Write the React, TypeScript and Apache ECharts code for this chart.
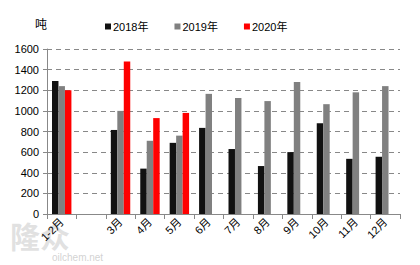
import React, { useEffect, useRef } from "react";
import * as echarts from "echarts";

const categories = ["1-2月", "", "3月", "4月", "5月", "6月", "7月", "8月", "9月", "10月", "11月", "12月"];
const y2018 = [1290, null, 815, 440, 690, 835, 630, 465, 600, 880, 535, 555];
const y2019 = [1240, null, 1000, 710, 760, 1165, 1125, 1095, 1280, 1065, 1180, 1240];
const y2020 = [1200, null, 1480, 930, 980, null, null, null, null, null, null, null];
const seriesNames = ["2018年", "2019年", "2020年"];
const colors = ["#111111", "#808080", "#ff0000"];

const FONT = "'Liberation Sans', 'Noto Sans CJK SC', sans-serif";

export default function App() {
  const ref = useRef<HTMLDivElement>(null);
  useEffect(() => {
    const chart = echarts.init(ref.current!, null, { renderer: "svg" });
    const data = [y2018, y2019, y2020];
    chart.setOption({
      animation: false,
      backgroundColor: "#ffffff",
      textStyle: { fontFamily: FONT },
      legend: {
        top: 16,
        left: 100,
        itemWidth: 6,
        itemHeight: 6,
        itemGap: 26,
        icon: "rect",
        textStyle: { fontSize: 11, color: "#000", fontFamily: FONT, padding: [0, 0, 0, -3] },
        data: seriesNames,
      },
      graphic: [
        { type: "text", left: 35, top: 19, style: { text: "吨", fontSize: 12, fill: "#000", fontFamily: FONT } },
        { type: "text", left: 10, top: 222, style: { text: "隆众", fontSize: 30, fontWeight: "bold", fill: "rgba(200,200,200,0.55)", fontFamily: FONT } },
        { type: "text", left: 52, top: 252, style: { text: "oilchem.net", fontSize: 10, fill: "rgba(190,190,190,0.7)", fontFamily: FONT } },
      ],
      grid: { left: 47, right: 20, top: 49, bottom: 51 },
      xAxis: {
        type: "category",
        data: categories,
        axisLine: { lineStyle: { color: "#888" } },
        axisTick: { show: true, alignWithLabel: false, length: 5, lineStyle: { color: "#888" } },
        axisLabel: { interval: 0, rotate: 45, fontSize: 11, color: "#000", margin: 6, fontFamily: FONT },
      },
      yAxis: {
        type: "value",
        min: 0,
        max: 1600,
        interval: 200,
        axisLine: { show: true, lineStyle: { color: "#888" } },
        axisTick: { show: true, length: 4, lineStyle: { color: "#888" } },
        axisLabel: { fontSize: 11, color: "#000", margin: 8, fontFamily: FONT, formatter: (v: number) => String(v) },
        splitLine: { lineStyle: { color: "#888", type: [5, 4] } },
      },
      series: seriesNames.map((n, i) => ({
        name: n,
        type: "bar",
        data: data[i],
        barGap: "0%",
        barCategoryGap: "34%",
        itemStyle: { color: colors[i] },
      })),
    });
    return () => chart.dispose();
  }, []);
  return <div ref={ref} style={{ width: 420, height: 265, position: "absolute", left: 0, top: 0 }} />;
}
